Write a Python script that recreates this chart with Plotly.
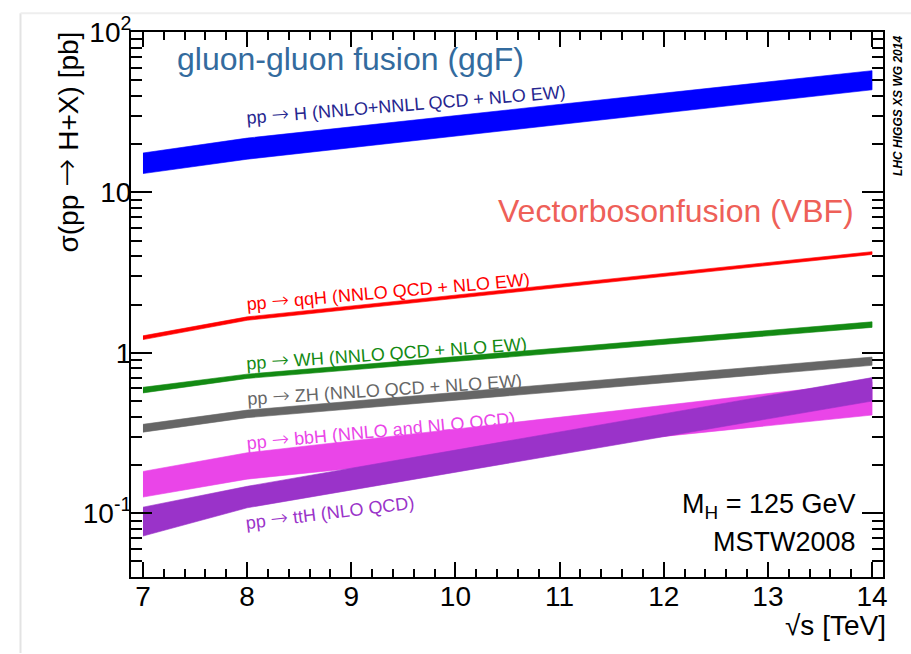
import plotly.graph_objects as go

# ---------------- data ----------------
energy = [7, 8, 14]                     # sqrt(s) [TeV]

ggf_hi = [17.6, 21.8, 57.4]
ggf_lo = [13.1, 16.1, 43.6]
vbf_hi = [1.276, 1.675, 4.27]
vbf_lo = [1.208, 1.594, 4.10]
wh_hi = [0.609, 0.736, 1.56]
wh_lo = [0.562, 0.692, 1.44]
zh_hi = [0.358, 0.439, 0.94]
zh_lo = [0.320, 0.394, 0.835]
bbh_hi = [0.182, 0.238, 0.66]
bbh_lo = [0.126, 0.163, 0.409]
tth_hi = [0.109, 0.147, 0.70]
tth_lo = [0.072, 0.108, 0.50]

x_ticks = [7, 8, 9, 10, 11, 12, 13, 14]
y_ticks = [0.1, 1, 10, 100]
y_ticktext = ["10<sup>-1</sup>", "1", "10", "10<sup>2</sup>"]

bands = [
    ("ggF", ggf_hi, ggf_lo, "#0000ff"),
    ("VBF", vbf_hi, vbf_lo, "#ff0000"),
    ("WH", wh_hi, wh_lo, "#138a13"),
    ("ZH", zh_hi, zh_lo, "#666666"),
    ("bbH", bbh_hi, bbh_lo, "#ea45e8"),
    ("ttH", tth_hi, tth_lo, "#9a33c9"),
]

FONT = "Liberation Sans, Arial, Helvetica, sans-serif"


def arrow(size):
    return ("<span style=\"font-family:'DejaVu Sans';font-weight:200;font-size:%dpx\">→</span>"
            % size)


fig = go.Figure()
for name, hi, lo, col in bands:
    fig.add_trace(go.Scatter(
        x=energy + energy[::-1], y=hi + lo[::-1],
        mode="lines", fill="toself", fillcolor=col,
        line=dict(width=0.6, color=col), name=name,
        hoverinfo="skip", showlegend=False))

# layout geometry (px)
L, R, T, B = 131, 883, 24, 577
W, H = 911, 654
PW, PH = R - L, B - T


def px(x):
    return (x - L) / PW


def py(y):
    return (B - y) / PH


minor_x = [round(7 + 0.2 * i, 1) for i in range(0, 36) if (i % 5) != 0]
minor_y = []
for dec in [0.01, 0.1, 1, 10]:
    for m in range(2, 10):
        v = m * dec
        if 0.04 <= v <= 100:
            minor_y.append(v)

fig.update_layout(
    width=W, height=H,
    margin=dict(l=L, r=W - R, t=T, b=H - B, pad=0),
    paper_bgcolor="white", plot_bgcolor="white",
    font=dict(family=FONT, color="black"),
    xaxis=dict(
        range=[6.885, 14.105], tickmode="array", tickvals=x_ticks,
        ticks="inside", ticklen=15, tickwidth=1.5, tickcolor="black",
        showline=True, linecolor="black", linewidth=2, mirror="ticks",
        showgrid=False, zeroline=False,
        tickfont=dict(size=28, family=FONT), ticklabelstandoff=-7,
        minor=dict(tickmode="array", tickvals=minor_x, ticks="inside",
                   ticklen=8, tickwidth=1.5, tickcolor="black", showgrid=False),
    ),
    yaxis=dict(
        type="log", range=[-1.398, 2.0], tickmode="array",
        tickvals=y_ticks, ticktext=y_ticktext,
        ticks="inside", ticklen=21, tickwidth=1.5, tickcolor="black",
        showline=True, linecolor="black", linewidth=2, mirror="ticks",
        showgrid=False, zeroline=False,
        tickfont=dict(size=28, family=FONT), ticklabelstandoff=-8,
        minor=dict(tickmode="array", tickvals=minor_y, ticks="inside",
                   ticklen=11, tickwidth=1.5, tickcolor="black", showgrid=False),
    ),
)

ann = []
# axis titles
ann.append(dict(text="σ(pp " + arrow(34) + " H+X) [pb]", x=px(66), y=py(22), xref="paper", yref="paper",
                textangle=-90, xanchor="center", yanchor="top", showarrow=False,
                font=dict(size=28, family=FONT, color="black")))
ann.append(dict(text="√s [TeV]", x=px(888), y=py(626), xref="paper", yref="paper",
                xanchor="right", yanchor="middle", showarrow=False,
                font=dict(size=28, family=FONT, color="black")))
# big titles
ann.append(dict(text="gluon-gluon fusion (ggF)", x=px(350), y=py(51), xref="paper", yref="paper",
                xanchor="center", yanchor="middle", showarrow=False,
                font=dict(size=32, family=FONT, color="#336b9e")))
ann.append(dict(text="Vectorbosonfusion (VBF)", x=px(676), y=py(206), xref="paper", yref="paper",
                xanchor="center", yanchor="middle", showarrow=False,
                font=dict(size=32, family=FONT, color="#ee6058")))
# process labels
labels = [
    ("H (NNLO+NNLL QCD + NLO EW)", 406, 97, -4.7, "#26268f"),
    ("qqH (NNLO QCD + NLO EW)", 388, 287, -5.0, "#ff0000"),
    ("WH (NNLO QCD + NLO EW)", 386, 350, -4.0, "#138a13"),
    ("ZH (NNLO QCD + NLO EW)", 384, 386, -3.8, "#666666"),
    ("bbH (NNLO and NLO QCD)", 381, 428, -5.3, "#ea45e8"),
    ("ttH (NLO QCD)", 330, 511, -7.0, "#9a33c9"),
]
for txt, cx, cy, ang, col in labels:
    ann.append(dict(text="pp " + arrow(21) + " " + txt, x=px(cx), y=py(cy),
                    xref="paper", yref="paper",
                    textangle=ang, xanchor="center", yanchor="middle", showarrow=False,
                    font=dict(size=18, family=FONT, color=col)))
# info text
ann.append(dict(text="M<sub>H</sub> = 125 GeV", x=px(858), y=py(505), xref="paper", yref="paper",
                xanchor="right", yanchor="middle", showarrow=False,
                font=dict(size=27, family=FONT, color="black")))
ann.append(dict(text="MSTW2008", x=px(858), y=py(541), xref="paper", yref="paper",
                xanchor="right", yanchor="middle", showarrow=False,
                font=dict(size=27, family=FONT, color="black")))
ann.append(dict(text="<b><i>LHC HIGGS XS WG 2014</i></b>", x=px(898), y=py(99),
                xref="paper", yref="paper", textangle=-90,
                xanchor="center", yanchor="middle", showarrow=False,
                font=dict(size=12, family=FONT, color="black")))
fig.update_layout(annotations=ann)

# faint page border seen in the picture
fig.add_shape(type="line", xref="paper", yref="paper", x0=px(20.5), x1=px(20.5),
              y0=py(654), y1=py(5), line=dict(color="#e3e3e3", width=2))
fig.add_shape(type="line", xref="paper", yref="paper", x0=px(20.5), x1=px(911),
              y0=py(5), y1=py(5), line=dict(color="#eeeeee", width=2))

fig.write_html("out.html")
